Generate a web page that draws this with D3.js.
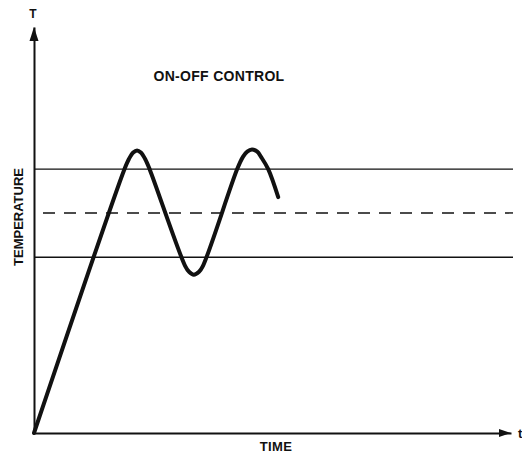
<!DOCTYPE html>
<html>
<head>
<meta charset="utf-8">
<script src="https://cdn.jsdelivr.net/npm/d3@7"></script>
<style>
  html, body { margin: 0; padding: 0; background: #fff; }
  svg { display: block; }
  text { font-family: "Liberation Sans", Arial, Helvetica, sans-serif; font-weight: bold; fill: #111; }
</style>
</head>
<body>
<svg id="chart" width="522" height="454"></svg>
<script>
// Temperature response of an on-off controller (arbitrary units, 0-100)
const time = [0, 18.9, 19.9, 20.8, 21.6, 22.4, 23.3, 24.3, 31.7, 32.5, 33.5, 34.6, 35.4,
              42.6, 43.8, 44.7, 45.7, 46.8, 47.6, 49.1, 51.2];
const temperature = [0, 64.8, 67.5, 69.1, 69.6, 69.1, 67.5, 64.8, 41.1, 39.7, 39.0, 39.7, 41.1,
                     65.0, 68.0, 69.3, 69.8, 69.3, 68.0, 65.0, 58.1];

// Switching band: upper limit, set point (dashed), lower limit
const bandLevels = [65, 54.2, 43.3];
const bandStyles = ["solid", "dashed", "solid"];

const title = "ON-OFF CONTROL";
const xLabel = "TIME";
const yLabel = "TEMPERATURE";
const xSymbol = "t";
const ySymbol = "T";

const svg = d3.select("#chart");
const x = d3.scaleLinear().domain([0, 100]).range([34, 511]);
const y = d3.scaleLinear().domain([0, 100]).range([433, 27]);

const ink = "#111";

// Band lines
svg.append("g")
  .selectAll("line")
  .data(bandLevels)
  .join("line")
  .attr("x1", x(0))
  .attr("x2", x(100) + 2)
  .attr("y1", d => y(d))
  .attr("y2", d => y(d))
  .attr("stroke", ink)
  .attr("stroke-width", 1.4)
  .attr("stroke-dasharray", (d, i) => bandStyles[i] === "dashed" ? "12,9" : null)
  .attr("stroke-dashoffset", -9);

// Axes without ticks
const yAxis = svg.append("g")
  .attr("transform", `translate(${x(0)},0)`)
  .call(d3.axisLeft(y).ticks(0).tickSizeOuter(0));
const xAxis = svg.append("g")
  .attr("transform", `translate(0,${y(0)})`)
  .call(d3.axisBottom(x).ticks(0).tickSizeOuter(0));
[yAxis, xAxis].forEach(g => g.select(".domain").attr("stroke", ink).attr("stroke-width", 2));

// Arrowheads
const yTip = y(100), xTip = x(100);
svg.append("path")
  .attr("d", `M${x(0)},${yTip} L${x(0) - 4.5},${yTip + 14} L${x(0) + 4.5},${yTip + 14} Z`)
  .attr("fill", ink);
svg.append("path")
  .attr("d", `M${xTip},${y(0)} L${xTip - 12},${y(0) - 4} L${xTip - 12},${y(0) + 4} Z`)
  .attr("fill", ink);

// Response curve
const pts = time.map((t, i) => [t, temperature[i]]);
svg.append("path")
  .datum(pts)
  .attr("fill", "none")
  .attr("stroke", ink)
  .attr("stroke-width", 4)
  .attr("stroke-linecap", "round")
  .attr("stroke-linejoin", "round")
  .attr("d", d3.line().x(d => x(d[0])).y(d => y(d[1])).curve(d3.curveCatmullRom.alpha(0.5)));

// Labels
svg.append("text").attr("x", 219).attr("y", 81).attr("text-anchor", "middle")
  .attr("font-size", 14).attr("letter-spacing", 0.3).text(title);
svg.append("text").attr("x", 276).attr("y", 451).attr("text-anchor", "middle")
  .attr("font-size", 13).attr("letter-spacing", 0.3).text(xLabel);
svg.append("text").attr("transform", "translate(23,217) rotate(-90)").attr("text-anchor", "middle")
  .attr("font-size", 13).text(yLabel);
svg.append("text").attr("x", 33).attr("y", 18).attr("text-anchor", "middle")
  .attr("font-size", 12).text(ySymbol);
svg.append("text").attr("x", 518).attr("y", 438)
  .attr("font-size", 13).text(xSymbol);
</script>
</body>
</html>
